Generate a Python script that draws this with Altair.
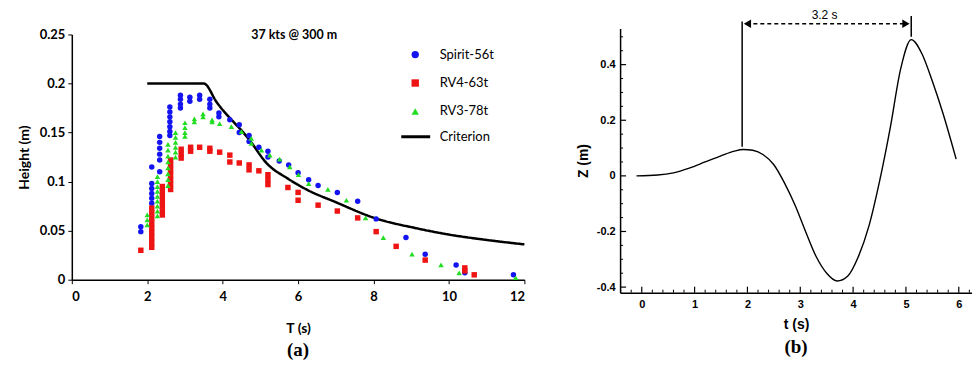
import altair as alt
import pandas as pd

# ---------------- Panel (a) data ----------------
spirit_T = [1.83, 1.83,
            2.12, 2.12, 2.12, 2.12, 2.12, 2.12,
            2.33, 2.33, 2.33, 2.33, 2.33, 2.33,
            2.60, 2.60, 2.60, 2.60, 2.60, 2.60, 2.60,
            2.88, 2.88, 2.88, 2.88,
            3.13, 3.13, 3.39, 3.39, 3.66, 3.66, 3.66, 3.90, 3.90,
            4.19, 4.44, 4.44, 4.70, 4.70, 4.96, 5.20, 5.20, 5.50, 5.75,
            6.00, 6.28, 6.53, 7.04, 7.58, 8.07, 8.86, 9.37, 10.19, 10.42, 11.71]
spirit_H = [0.054, 0.049,
            0.115, 0.098, 0.093, 0.088, 0.083, 0.078,
            0.146, 0.140, 0.134, 0.128, 0.122, 0.110,
            0.176, 0.171, 0.166, 0.161, 0.156, 0.151, 0.147,
            0.188, 0.184, 0.179, 0.175,
            0.186, 0.182, 0.188, 0.184, 0.184, 0.179, 0.175, 0.170, 0.166,
            0.163, 0.158, 0.150, 0.147, 0.141, 0.135, 0.131, 0.125, 0.121, 0.117,
            0.109, 0.102, 0.096, 0.089, 0.080, 0.062, 0.043, 0.026, 0.015, 0.007, 0.005]

rv4_T = [1.83,
         2.12, 2.12, 2.12, 2.12, 2.12, 2.12, 2.12, 2.12, 2.12,
         2.40, 2.40, 2.40, 2.40, 2.40, 2.40, 2.40,
         2.62, 2.62, 2.62, 2.62, 2.62, 2.62, 2.62,
         2.90, 2.90, 2.90, 3.15, 3.15, 3.39, 3.66, 3.66, 3.92,
         4.19, 4.19, 4.44, 4.70, 4.70, 4.96, 5.20, 5.20, 5.20,
         5.73, 6.00, 6.00, 6.53, 7.04, 7.58, 8.07, 8.60, 9.37, 10.42, 10.42, 10.67]
rv4_H = [0.030,
         0.073, 0.068, 0.063, 0.058, 0.053, 0.048, 0.043, 0.038, 0.033,
         0.095, 0.090, 0.085, 0.080, 0.075, 0.070, 0.066,
         0.122, 0.117, 0.112, 0.107, 0.102, 0.097, 0.092,
         0.133, 0.128, 0.124, 0.135, 0.131, 0.135, 0.134, 0.131, 0.130,
         0.127, 0.120, 0.119, 0.117, 0.112, 0.111, 0.107, 0.102, 0.097,
         0.094, 0.089, 0.081, 0.076, 0.070, 0.063, 0.049, 0.034, 0.020, 0.012, 0.009, 0.005]

rv3_T = [2.00, 2.00, 2.00,
         2.27, 2.27, 2.27, 2.27, 2.27, 2.27, 2.27, 2.27, 2.27,
         2.55, 2.55, 2.55, 2.55, 2.55, 2.55, 2.55, 2.55,
         2.75, 2.75, 2.75, 2.75, 2.75, 2.75,
         3.00, 3.00, 3.00, 3.00, 3.25, 3.25, 3.48, 3.48, 3.72, 3.72,
         3.92, 4.23, 4.50, 4.76, 4.76, 5.03, 5.25, 5.51, 5.78, 6.01, 6.28,
         6.79, 7.28, 7.79, 8.26, 9.02, 9.79, 10.27, 11.77]
rv3_H = [0.066, 0.061, 0.056,
         0.105, 0.100, 0.095, 0.090, 0.085, 0.080, 0.075, 0.070, 0.065,
         0.138, 0.132, 0.126, 0.120, 0.114, 0.108, 0.102, 0.096,
         0.150, 0.145, 0.140, 0.135, 0.130, 0.125,
         0.160, 0.155, 0.150, 0.146, 0.164, 0.161, 0.169, 0.166, 0.163, 0.161,
         0.159, 0.156, 0.151, 0.144, 0.139, 0.132, 0.127, 0.123, 0.115, 0.107, 0.098,
         0.092, 0.081, 0.063, 0.043, 0.026, 0.015, 0.007, 0.002]

criterion_T = [2.0, 3.5, 3.84, 4.72, 5.16, 5.73, 6.22, 7.0, 8.02, 9.13, 10.0, 10.9, 12.0]
criterion_H = [0.200, 0.200, 0.181, 0.142, 0.119, 0.103, 0.092, 0.079, 0.063, 0.0525, 0.046, 0.041, 0.036]

series_names = ["Spirit-56t", "RV4-63t", "RV3-78t"]
series_colors = ["#1414f0", "#ee1414", "#22dd22"]
series_shapes = ["circle", "square", "triangle-up"]

x_ticks_a = [0, 2, 4, 6, 8, 10, 12]
y_ticks_a = [0, 0.05, 0.1, 0.15, 0.2, 0.25]

# ---------------- Panel (b) data ----------------
t_vals = [-0.1, 0.3, 0.6, 0.9, 1.2, 1.5, 1.75, 1.92, 2.1, 2.3, 2.5, 2.7, 2.9, 3.1, 3.3,
          3.5, 3.7, 3.9, 4.1, 4.3, 4.5, 4.7, 4.9, 5.1, 5.3, 5.5, 5.7, 5.95]
z_vals = [0.0, 0.003, 0.011, 0.028, 0.050, 0.072, 0.089, 0.095, 0.092, 0.076, 0.040, -0.025,
          -0.105, -0.200, -0.290, -0.350, -0.378, -0.360, -0.290, -0.180, -0.020, 0.170,
          0.385, 0.490, 0.440, 0.340, 0.225, 0.060]

x_ticks_b = [0, 1, 2, 3, 4, 5, 6]
y_ticks_b = [-0.4, -0.2, 0, 0.2, 0.4]
x_minor_b = [-0.4, -0.2, 0.2, 0.4, 0.6, 0.8, 1.2, 1.4, 1.6, 1.8, 2.2, 2.4, 2.6, 2.8,
             3.2, 3.4, 3.6, 3.8, 4.2, 4.4, 4.6, 4.8, 5.2, 5.4, 5.6, 5.8, 6.2]
y_minor_b = [-0.35, -0.3, -0.25, -0.15, -0.1, -0.05, 0.05, 0.1, 0.15, 0.25, 0.3, 0.35, 0.45, 0.5]

# annotation (data units of panel b)
peak1_t, peak1_z = 1.90, 0.105
peak2_t, peak2_z = 5.10, 0.50
arrow_z = 0.547
bar_top = 0.555
bar2_top = 0.575
label_t, label_z = 3.46, 0.578

# ---------------- build panel (a) ----------------
rows = []
for name, Ts, Hs in [("Spirit-56t", spirit_T, spirit_H), ("RV4-63t", rv4_T, rv4_H), ("RV3-78t", rv3_T, rv3_H)]:
    for t, h in zip(Ts, Hs):
        rows.append({"T": t, "H": h, "series": name})
pts = pd.DataFrame(rows)
crit = pd.DataFrame({"T": criterion_T, "H": criterion_H, "name": ["Criterion"] * len(criterion_T)})

WL, HL = 454, 246
FONT_A = "Lato"

xA = alt.X("T:Q", scale=alt.Scale(domain=[0, 12], nice=False),
           axis=alt.Axis(values=x_ticks_a, title="T (s)", grid=False, format="~g",
                         labelFont=FONT_A, labelFontWeight="bold", labelFontSize=13, labelColor="black",
                         titleFont=FONT_A, titleFontSize=14, titleFontWeight="bold", titleColor="black",
                         domainColor="black", domainWidth=1.5, tickColor="black", tickSize=4,
                         labelPadding=7, titlePadding=18))
yA = alt.Y("H:Q", scale=alt.Scale(domain=[0, 0.25], nice=False),
           axis=alt.Axis(values=y_ticks_a, title="Height (m)", grid=False, format="~g",
                         labelFont=FONT_A, labelFontWeight="bold", labelFontSize=13, labelColor="black",
                         titleFont=FONT_A, titleFontSize=14, titleFontWeight="bold", titleColor="black",
                         domainColor="black", domainWidth=1.5, tickColor="black", tickSize=4,
                         labelPadding=3, titlePadding=8))

points = alt.Chart(pts).mark_point(filled=True, size=30, opacity=1).encode(
    x=xA, y=yA,
    color=alt.Color("series:N", scale=alt.Scale(domain=series_names, range=series_colors),
                    legend=alt.Legend(orient="none", legendX=338, legendY=19.7, title=None,
                                      labelFont=FONT_A, labelFontSize=13, labelColor="black",
                                      symbolSize=55, rowPadding=14.5, padding=0, labelOffset=18)),
    shape=alt.Shape("series:N", scale=alt.Scale(domain=series_names, range=series_shapes)),
)

crit_line = alt.Chart(crit).mark_line(color="black", strokeWidth=2.5, interpolate="monotone").encode(
    x="T:Q", y="H:Q",
    strokeDash=alt.StrokeDash("name:N", scale=alt.Scale(domain=["Criterion"], range=[[1, 0]]),
                              legend=alt.Legend(orient="none", legendX=329, legendY=92.7, title=None,
                                                labelFont=FONT_A, labelFontSize=13, labelColor="black",
                                                symbolSize=841, symbolStrokeWidth=3, symbolStrokeColor="black",
                                                padding=0, labelOffset=8)),
)

title_a = alt.Chart(pd.DataFrame({"txt": ["37 kts @ 300 m"]})).mark_text(
    font=FONT_A, fontSize=12.5, fontWeight="bold", color="black").encode(
    text="txt:N", x=alt.value(223), y=alt.value(1))

left = alt.layer(crit_line, points, title_a).properties(
    width=WL, height=HL,
    title=alt.TitleParams("(a)", orient="bottom", font="Liberation Serif", fontSize=19,
                          fontWeight="bold", color="black", offset=6))

spacer = alt.Chart(pd.DataFrame({"v": [0]})).mark_point(opacity=0).encode(
    x=alt.value(0), y=alt.value(0)).properties(width=1, height=1)

left_col = alt.vconcat(spacer, left, spacing=5, bounds="flush")

# ---------------- build panel (b) ----------------
WR, HR = 353, 265
FONT_B = "Liberation Sans"
xdom = [-0.41, 6.25]
ydom = [-0.42, 0.53]

wave = pd.DataFrame({"t": t_vals, "z": z_vals})
xB = alt.X("t:Q", scale=alt.Scale(domain=xdom, nice=False, zero=False),
           axis=alt.Axis(values=x_ticks_b, title="t (s)", grid=False, ticks=False,
                         labelFont=FONT_B, labelFontWeight="bold", labelFontSize=11, labelColor="black",
                         titleFont=FONT_B, titleFontSize=14, titleFontWeight="bold", titleColor="black",
                         domainColor="black", domainWidth=1.5, labelPadding=6, titlePadding=8))
yB = alt.Y("z:Q", scale=alt.Scale(domain=ydom, nice=False, zero=False),
           axis=alt.Axis(values=y_ticks_b, title="Z (m)", grid=False, ticks=False,
                         labelExpr="'' + datum.value",
                         labelFont=FONT_B, labelFontWeight="bold", labelFontSize=11, labelColor="black",
                         titleFont=FONT_B, titleFontSize=14, titleFontWeight="bold", titleColor="black",
                         domainColor="black", domainWidth=1.5, labelPadding=5, titlePadding=6))

wave_line = alt.Chart(wave).mark_line(color="black", strokeWidth=1.4, interpolate="monotone").encode(x=xB, y=yB)

xmaj = alt.Chart(pd.DataFrame({"t": x_ticks_b})).mark_rule(color="black", strokeWidth=1.2).encode(
    x="t:Q", y=alt.value(HR), y2=alt.value(HR - 6))
xmin = alt.Chart(pd.DataFrame({"t": x_minor_b})).mark_rule(color="black", strokeWidth=1).encode(
    x="t:Q", y=alt.value(HR), y2=alt.value(HR - 3))
ymaj = alt.Chart(pd.DataFrame({"z": y_ticks_b})).mark_rule(color="black", strokeWidth=1.2).encode(
    y="z:Q", x=alt.value(0), x2=alt.value(6))
ymin = alt.Chart(pd.DataFrame({"z": y_minor_b})).mark_rule(color="black", strokeWidth=1).encode(
    y="z:Q", x=alt.value(0), x2=alt.value(3))

vbars = alt.Chart(pd.DataFrame({"t": [peak1_t, peak2_t], "z": [peak1_z, peak2_z],
                                "z2": [bar_top, bar2_top]})).mark_rule(color="black", strokeWidth=1.5).encode(
    x="t:Q", y="z:Q", y2="z2:Q")
arrow_line = alt.Chart(pd.DataFrame({"t": [peak1_t + 0.08], "t2": [peak2_t - 0.08], "z": [arrow_z]})).mark_rule(
    color="black", strokeWidth=1.5, strokeDash=[4, 3]).encode(x="t:Q", x2="t2:Q", y="z:Q")
heads = alt.Chart(pd.DataFrame({"t": [peak1_t + 0.1, peak2_t - 0.1], "z": [arrow_z, arrow_z],
                                "shp": ["triangle-left", "triangle-right"]})).mark_point(
    filled=True, color="black", size=70, opacity=1).encode(
    x="t:Q", y="z:Q", shape=alt.Shape("shp:N", scale=None, legend=None))
lbl = alt.Chart(pd.DataFrame({"t": [label_t], "z": [label_z], "txt": ["3.2 s"]})).mark_text(
    font=FONT_B, fontSize=12, color="black").encode(x="t:Q", y="z:Q", text="txt:N")

right = alt.layer(wave_line, xmaj, xmin, ymaj, ymin, vbars, arrow_line, heads, lbl).properties(
    width=WR, height=HR,
    title=alt.TitleParams("(b)", orient="bottom", font="Liberation Serif", fontSize=19,
                          fontWeight="bold", color="black", offset=7))

chart = alt.hconcat(left_col, right, spacing=47).properties(
    padding={"left": 9, "top": 0, "right": 0, "bottom": 0}
).resolve_scale(color="independent", shape="independent", strokeDash="independent").configure_view(stroke=None)

chart.save("out.html", embed_options={"renderer": "svg", "actions": False})
